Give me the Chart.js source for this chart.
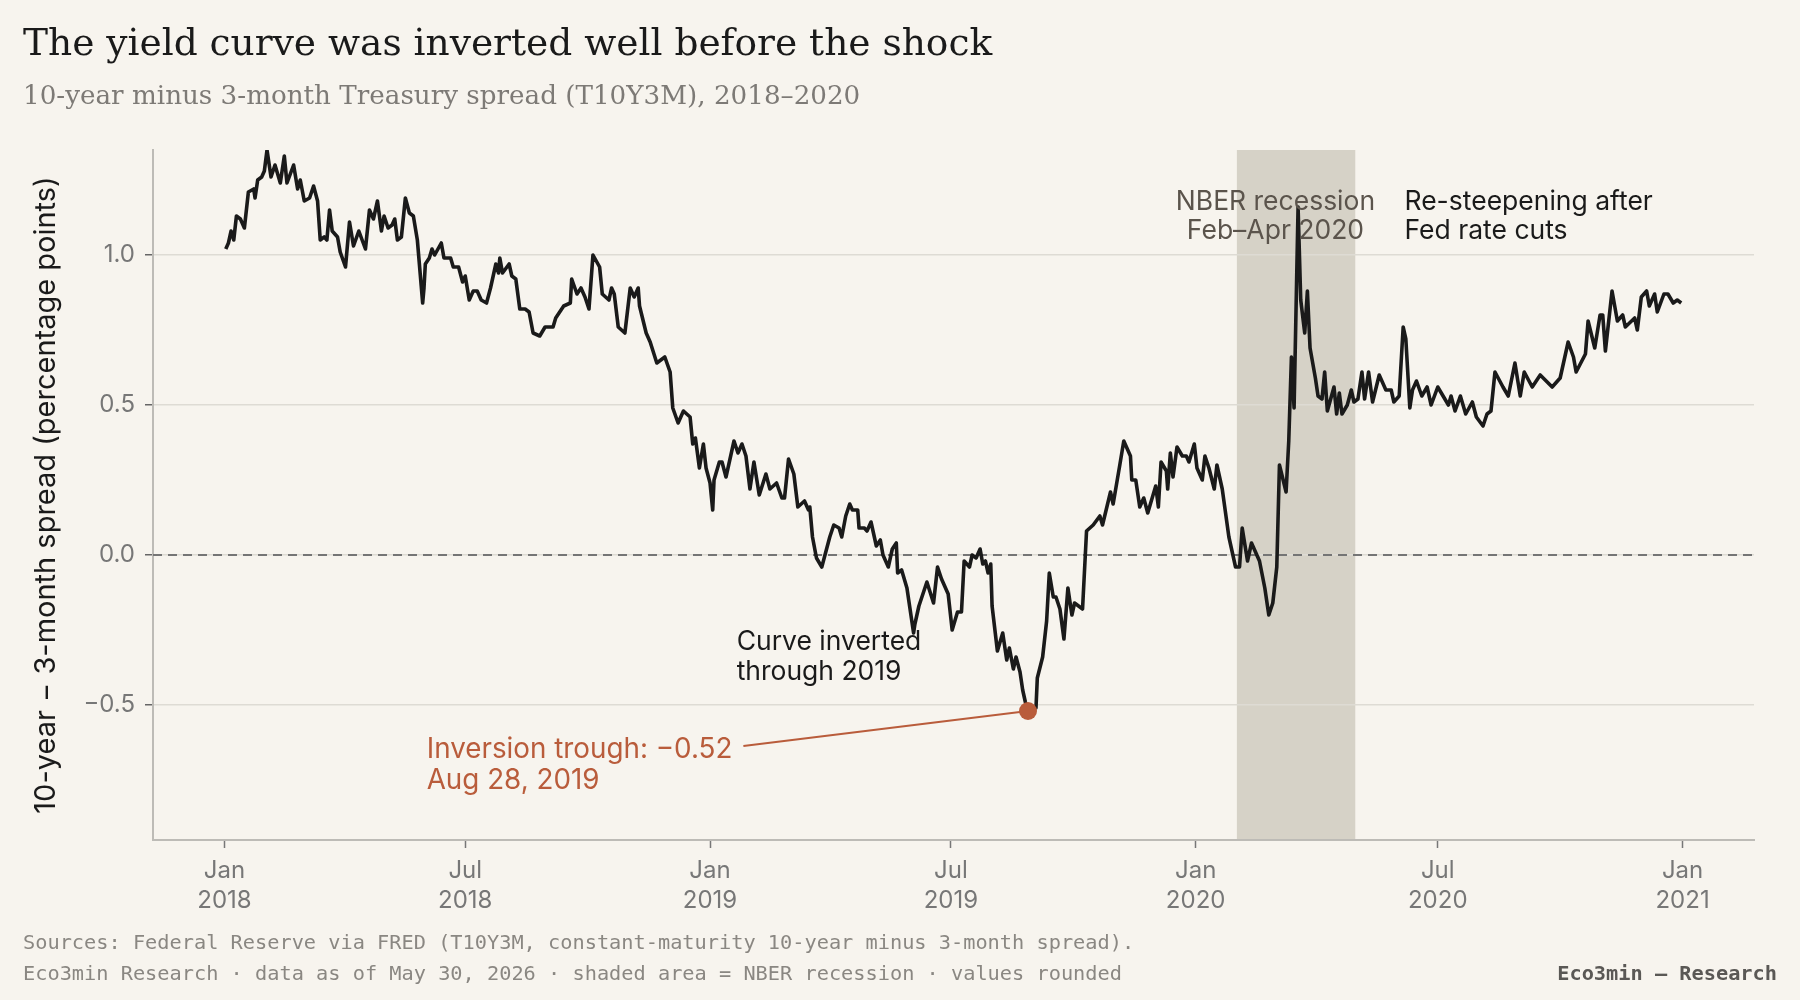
<!DOCTYPE html>
<html>
<head>
<meta charset="utf-8">
<title>T10Y3M spread 2018–2020</title>
<script src="https://cdn.jsdelivr.net/npm/chart.js@4.4.1/dist/chart.umd.min.js"></script>
<style>
  html, body { margin: 0; padding: 0; background: #f7f4ee; }
  canvas { display: block; }
</style>
</head>
<body>
<canvas id="spreadChart" width="1800" height="1000"></canvas>
<script>
// T10Y3M spread (percentage points)
const dates = [
  "2018-01-02","2018-01-04","2018-01-06","2018-01-08","2018-01-10","2018-01-13","2018-01-16","2018-01-19","2018-01-23","2018-01-24",
  "2018-01-26","2018-01-29","2018-01-31","2018-02-02","2018-02-05","2018-02-08","2018-02-12","2018-02-15","2018-02-17","2018-02-22",
  "2018-02-25","2018-02-27","2018-03-02","2018-03-06","2018-03-09","2018-03-12","2018-03-14","2018-03-17","2018-03-19","2018-03-21",
  "2018-03-23","2018-03-27","2018-03-29","2018-04-02","2018-04-05","2018-04-08","2018-04-12","2018-04-17","2018-04-20","2018-04-23",
  "2018-04-26","2018-04-29","2018-05-01","2018-05-04","2018-05-07","2018-05-09","2018-05-11","2018-05-14","2018-05-17","2018-05-20",
  "2018-05-23","2018-05-26","2018-05-30","2018-05-31","2018-06-01","2018-06-04","2018-06-06","2018-06-08","2018-06-13","2018-06-15",
  "2018-06-20","2018-06-22","2018-06-26","2018-06-29","2018-07-01","2018-07-04","2018-07-07","2018-07-10","2018-07-13","2018-07-17",
  "2018-07-20","2018-07-24","2018-07-26","2018-07-27","2018-07-29","2018-08-03","2018-08-05","2018-08-08","2018-08-11","2018-08-15",
  "2018-08-18","2018-08-21","2018-08-26","2018-08-30","2018-09-05","2018-09-07","2018-09-13","2018-09-18","2018-09-19","2018-09-23",
  "2018-09-26","2018-09-29","2018-10-02","2018-10-05","2018-10-10","2018-10-12","2018-10-17","2018-10-19","2018-10-21","2018-10-24",
  "2018-10-29","2018-11-02","2018-11-05","2018-11-08","2018-11-09","2018-11-14","2018-11-17","2018-11-22","2018-11-28","2018-12-02",
  "2018-12-04","2018-12-08","2018-12-12","2018-12-17","2018-12-19","2018-12-21","2018-12-24","2018-12-27","2018-12-29",
  "2019-01-01","2019-01-03","2019-01-04","2019-01-08","2019-01-10","2019-01-13","2019-01-19","2019-01-22","2019-01-25","2019-01-28",
  "2019-01-31","2019-02-03","2019-02-07","2019-02-12","2019-02-15","2019-02-20","2019-02-24","2019-02-26","2019-03-01","2019-03-05",
  "2019-03-08","2019-03-13","2019-03-16","2019-03-17","2019-03-19","2019-03-22","2019-03-26","2019-04-01","2019-04-04","2019-04-08",
  "2019-04-10","2019-04-13","2019-04-16","2019-04-18","2019-04-22","2019-04-23","2019-04-27","2019-04-29","2019-05-02","2019-05-06",
  "2019-05-09","2019-05-11","2019-05-15","2019-05-18","2019-05-21","2019-05-22","2019-05-25","2019-05-29","2019-05-31","2019-06-03",
  "2019-06-04","2019-06-07","2019-06-13","2019-06-18","2019-06-21","2019-06-24","2019-06-29","2019-07-02","2019-07-06","2019-07-09",
  "2019-07-11","2019-07-15","2019-07-17","2019-07-20","2019-07-23","2019-07-25","2019-07-27","2019-07-29","2019-07-31","2019-08-01",
  "2019-08-05","2019-08-09","2019-08-12","2019-08-14","2019-08-17","2019-08-19","2019-08-22","2019-08-24","2019-08-26","2019-08-28",
  "2019-08-31","2019-09-03","2019-09-04","2019-09-08","2019-09-11","2019-09-13","2019-09-16","2019-09-18","2019-09-21","2019-09-24",
  "2019-09-27","2019-09-30","2019-10-02","2019-10-08","2019-10-11","2019-10-16","2019-10-21","2019-10-23","2019-10-29","2019-10-31",
  "2019-11-05","2019-11-08","2019-11-13","2019-11-14","2019-11-17","2019-11-20","2019-11-23","2019-11-26","2019-12-02","2019-12-04",
  "2019-12-06","2019-12-10","2019-12-11","2019-12-13","2019-12-15","2019-12-18","2019-12-22","2019-12-25","2019-12-27","2019-12-31",
  "2020-01-02","2020-01-06","2020-01-08","2020-01-11","2020-01-15","2020-01-17","2020-01-21","2020-01-26","2020-01-31","2020-02-03",
  "2020-02-05","2020-02-09","2020-02-12","2020-02-18","2020-02-22","2020-02-25","2020-02-28","2020-03-02","2020-03-04","2020-03-09",
  "2020-03-11","2020-03-13","2020-03-15","2020-03-18","2020-03-20","2020-03-23","2020-03-25","2020-03-27","2020-03-31","2020-04-02",
  "2020-04-05","2020-04-07","2020-04-09","2020-04-14","2020-04-16","2020-04-18","2020-04-20","2020-04-24","2020-04-27","2020-04-29",
  "2020-05-02","2020-05-05","2020-05-07","2020-05-10","2020-05-13","2020-05-18","2020-05-23","2020-05-27","2020-05-29","2020-06-02",
  "2020-06-05","2020-06-07","2020-06-10","2020-06-12","2020-06-15","2020-06-19","2020-06-23","2020-06-26","2020-07-01","2020-07-05",
  "2020-07-09","2020-07-11","2020-07-14","2020-07-18","2020-07-22","2020-07-27","2020-07-30","2020-08-04","2020-08-07","2020-08-10",
  "2020-08-13","2020-08-19","2020-08-23","2020-08-28","2020-09-01","2020-09-04","2020-09-10","2020-09-16","2020-09-25","2020-10-01",
  "2020-10-07","2020-10-11","2020-10-13","2020-10-20","2020-10-22","2020-10-27","2020-10-31","2020-11-02","2020-11-04","2020-11-09",
  "2020-11-13","2020-11-17","2020-11-19","2020-11-26","2020-11-28","2020-12-01","2020-12-05","2020-12-07","2020-12-11","2020-12-13",
  "2020-12-18","2020-12-21","2020-12-25","2020-12-28","2020-12-31"
];

const spread = [
  1.02,1.04,1.08,1.05,1.13,1.12,1.09,1.21,1.22,1.19,
  1.25,1.26,1.28,1.35,1.26,1.30,1.24,1.33,1.24,1.30,
  1.22,1.25,1.18,1.19,1.23,1.18,1.05,1.06,1.05,1.15,
  1.08,1.06,1.01,0.96,1.11,1.03,1.08,1.02,1.15,1.12,
  1.18,1.08,1.13,1.09,1.10,1.12,1.05,1.06,1.19,1.14,
  1.13,1.05,0.84,0.89,0.97,0.99,1.02,1.00,1.04,0.99,
  0.99,0.96,0.96,0.91,0.93,0.85,0.88,0.88,0.85,0.84,
  0.89,0.97,0.94,0.99,0.94,0.97,0.93,0.92,0.82,0.82,
  0.81,0.74,0.73,0.76,0.76,0.79,0.83,0.84,0.92,0.87,
  0.89,0.86,0.82,1.00,0.96,0.87,0.85,0.89,0.87,0.76,
  0.74,0.89,0.86,0.89,0.83,0.74,0.71,0.64,0.66,0.61,
  0.49,0.44,0.48,0.46,0.37,0.39,0.29,0.37,0.29,
  0.24,0.15,0.25,0.31,0.31,0.26,0.38,0.34,0.37,0.33,
  0.22,0.31,0.20,0.27,0.22,0.24,0.19,0.19,0.32,0.27,
  0.16,0.18,0.15,0.16,0.06,-0.01,-0.04,0.06,0.10,0.09,
  0.06,0.13,0.17,0.15,0.15,0.09,0.09,0.08,0.11,0.03,
  0.05,0.00,-0.04,0.02,0.04,-0.06,-0.05,-0.11,-0.17,-0.26,
  -0.23,-0.17,-0.09,-0.16,-0.04,-0.08,-0.13,-0.25,-0.19,-0.19,
  -0.02,-0.04,0.00,-0.01,0.02,-0.03,-0.02,-0.06,-0.03,-0.17,
  -0.32,-0.26,-0.35,-0.31,-0.38,-0.34,-0.39,-0.45,-0.49,-0.52,
  -0.51,-0.51,-0.41,-0.34,-0.22,-0.06,-0.14,-0.14,-0.18,-0.28,
  -0.11,-0.20,-0.16,-0.18,0.08,0.10,0.13,0.10,0.21,0.17,
  0.30,0.38,0.33,0.25,0.25,0.16,0.19,0.14,0.23,0.16,
  0.31,0.28,0.22,0.34,0.26,0.36,0.33,0.33,0.31,0.37,
  0.29,0.25,0.33,0.29,0.22,0.30,0.22,0.06,-0.04,-0.04,
  0.09,-0.02,0.04,-0.02,-0.11,-0.20,-0.16,-0.04,0.30,0.21,
  0.38,0.66,0.49,1.16,0.85,0.74,0.88,0.69,0.59,0.53,
  0.52,0.61,0.48,0.56,0.47,0.54,0.47,0.50,0.55,0.51,
  0.52,0.61,0.52,0.61,0.51,0.60,0.55,0.55,0.51,0.53,
  0.76,0.72,0.49,0.55,0.58,0.53,0.56,0.50,0.56,0.53,
  0.50,0.53,0.48,0.53,0.47,0.51,0.46,0.43,0.47,0.48,
  0.61,0.56,0.53,0.64,0.53,0.61,0.56,0.60,0.56,0.59,
  0.71,0.66,0.61,0.67,0.78,0.69,0.80,0.80,0.68,0.88,
  0.78,0.80,0.76,0.79,0.75,0.86,0.88,0.83,0.87,0.81,
  0.87,0.87,0.84,0.85,0.84
];

const recessionStart = "2020-02-01";
const recessionEnd = "2020-04-30";

const troughDate = "2019-08-28";
const troughValue = -0.52;

const xTickDates = ["2018-01-01", "2018-07-01", "2019-01-01", "2019-07-01", "2020-01-01", "2020-07-01", "2021-01-01"];
const xTickLabels = [["Jan", "2018"], ["Jul", "2018"], ["Jan", "2019"], ["Jul", "2019"], ["Jan", "2020"], ["Jul", "2020"], ["Jan", "2021"]];
const yTickValues = [-0.5, 0, 0.5, 1.0];
const yTickLabels = ["\u22120.5", "0.0", "0.5", "1.0"];

const BG = "#f7f4ee";
const INK = "#1a1a1a";
const RUST = "#b95c3b";
const SANS = "Inter, 'Noto Sans', sans-serif";
const SERIF = "'DejaVu Serif', serif";
const MONO = "'DejaVu Sans Mono', monospace";

Chart.defaults.font.family = SANS;

const t = d => Date.parse(d);
const first = t(dates[0]);
const last = t(dates[dates.length - 1]);
const pad = (last - first) * 0.05;

function lines(ctx, rows, x, y, lh) {
  rows.forEach((r, i) => ctx.fillText(r, x, y + i * lh));
}

// size a line of text so it spans a given width
function fitText(ctx, text, family, width, x, y) {
  ctx.font = "40px " + family;
  const size = 40 * width / ctx.measureText(text).width;
  ctx.font = size.toFixed(1) + "px " + family;
  ctx.fillText(text, x, y);
}

const decor = {
  id: "decor",
  beforeDraw(chart) {
    const { ctx, chartArea: a, scales: { x } } = chart;
    ctx.save();
    ctx.fillStyle = BG;
    ctx.fillRect(0, 0, chart.width, chart.height);
    // NBER recession band
    const x0 = x.getPixelForValue(t(recessionStart));
    const x1 = x.getPixelForValue(t(recessionEnd));
    ctx.fillStyle = "#d6d2c7";
    ctx.fillRect(x0, a.top, x1 - x0, a.bottom - a.top);
    ctx.restore();
  },
  beforeDatasetsDraw(chart) {
    const { ctx, chartArea: a, scales: { x, y } } = chart;
    ctx.save();
    // zero line
    const y0 = y.getPixelForValue(0);
    ctx.strokeStyle = "#757575";
    ctx.lineWidth = 2;
    ctx.setLineDash([9, 6]);
    ctx.beginPath();
    ctx.moveTo(a.left, y0);
    ctx.lineTo(a.right, y0);
    ctx.stroke();
    ctx.setLineDash([]);

    // trough label + leader
    ctx.font = "27.8px " + SANS;
    ctx.fillStyle = RUST;
    const tx = x.getPixelForValue(t("2018-06-02"));
    const ty = y.getPixelForValue(-0.677);
    const label = ["Inversion trough: \u22120.52", "Aug 28, 2019"];
    lines(ctx, label, tx, ty, 31);
    const w = ctx.measureText(label[0]).width;
    ctx.strokeStyle = RUST;
    ctx.lineWidth = 2;
    ctx.beginPath();
    ctx.moveTo(tx + w + 11, ty - 12);
    ctx.lineTo(x.getPixelForValue(t(troughDate)), y.getPixelForValue(troughValue));
    ctx.stroke();
    ctx.restore();
  },
  afterDraw(chart) {
    const { ctx, scales: { x, y } } = chart;
    ctx.save();
    ctx.textBaseline = "alphabetic";

    // title + subtitle
    ctx.fillStyle = INK;
    fitText(ctx, "The yield curve was inverted well before the shock", SERIF, 968, 23, 55);
    ctx.fillStyle = "#7d7a76";
    fitText(ctx, "10-year minus 3-month Treasury spread (T10Y3M), 2018\u20132020", SERIF, 838, 23, 104);

    // annotations
    ctx.font = "26.5px " + SANS;
    ctx.fillStyle = "#5b544c";
    ctx.textAlign = "center";
    lines(ctx, ["NBER recession", "Feb\u2013Apr 2020"], x.getPixelForValue(t("2020-03-01")), y.getPixelForValue(1.15), 29);
    ctx.textAlign = "left";
    ctx.fillStyle = INK;
    lines(ctx, ["Re-steepening after", "Fed rate cuts"], x.getPixelForValue(t("2020-06-06")), y.getPixelForValue(1.15), 29);
    lines(ctx, ["Curve inverted", "through 2019"], x.getPixelForValue(t("2019-01-21")), y.getPixelForValue(-0.317), 30);

    // footer
    ctx.font = "20.3px " + MONO;
    ctx.fillStyle = "#8a8782";
    ctx.fillText("Sources: Federal Reserve via FRED (T10Y3M, constant-maturity 10-year minus 3-month spread).", 23, 949);
    ctx.fillText("Eco3min Research \u00b7 data as of May 30, 2026 \u00b7 shaded area = NBER recession \u00b7 values rounded", 23, 980);
    ctx.textAlign = "right";
    ctx.fillStyle = "#5a5855";
    ctx.font = "bold 20.3px " + MONO;
    ctx.fillText("Eco3min \u2014 Research", 1777, 980);
    ctx.restore();
  }
};

new Chart(document.getElementById("spreadChart"), {
  type: "line",
  data: {
    datasets: [
      {
        type: "scatter",
        data: [{ x: t(troughDate), y: troughValue }],
        pointRadius: 9,
        pointBackgroundColor: RUST,
        pointBorderWidth: 0,
        order: -1
      },
      {
        data: dates.map((d, i) => ({ x: t(d), y: spread[i] })),
        borderColor: INK,
        borderWidth: 3.6,
        borderJoinStyle: "round",
        pointRadius: 0,
        tension: 0,
        order: 0
      }
    ]
  },
  options: {
    responsive: false,
    animation: false,
    layout: { padding: { top: 150, right: 46, bottom: 0, left: 0 } },
    plugins: { legend: { display: false }, tooltip: { enabled: false } },
    scales: {
      x: {
        type: "linear",
        min: first - pad,
        max: last + pad,
        afterBuildTicks: s => { s.ticks = xTickDates.map(d => ({ value: t(d) })); },
        afterFit: s => { s.height = 160; },
        grid: { drawOnChartArea: false, drawTicks: true, tickLength: 8, tickColor: "#777", tickWidth: 1.5 },
        border: { color: "#bdbbb6", width: 2 },
        ticks: {
          autoSkip: false,
          maxRotation: 0,
          padding: 8,
          color: "#777",
          font: { size: 24, lineHeight: 1.25 },
          callback: (v, i) => xTickLabels[i]
        }
      },
      y: {
        min: -0.95,
        max: 1.35,
        afterBuildTicks: s => { s.ticks = yTickValues.map(v => ({ value: v })); },
        afterFit: s => { s.width = 153; },
        grid: { color: "#dedbd4", lineWidth: 1.5, tickLength: 8, tickColor: "#666", tickWidth: 1.5 },
        border: { color: "#bdbbb6", width: 2 },
        ticks: {
          padding: 10,
          color: "#777",
          font: { size: 24 },
          callback: (v, i) => yTickLabels[i]
        },
        title: {
          display: true,
          text: "10-year \u2212 3-month spread (percentage points)",
          color: INK,
          font: { size: 29 },
          padding: { top: 29, bottom: 0 }
        }
      }
    }
  },
  plugins: [decor]
});
</script>
</body>
</html>
